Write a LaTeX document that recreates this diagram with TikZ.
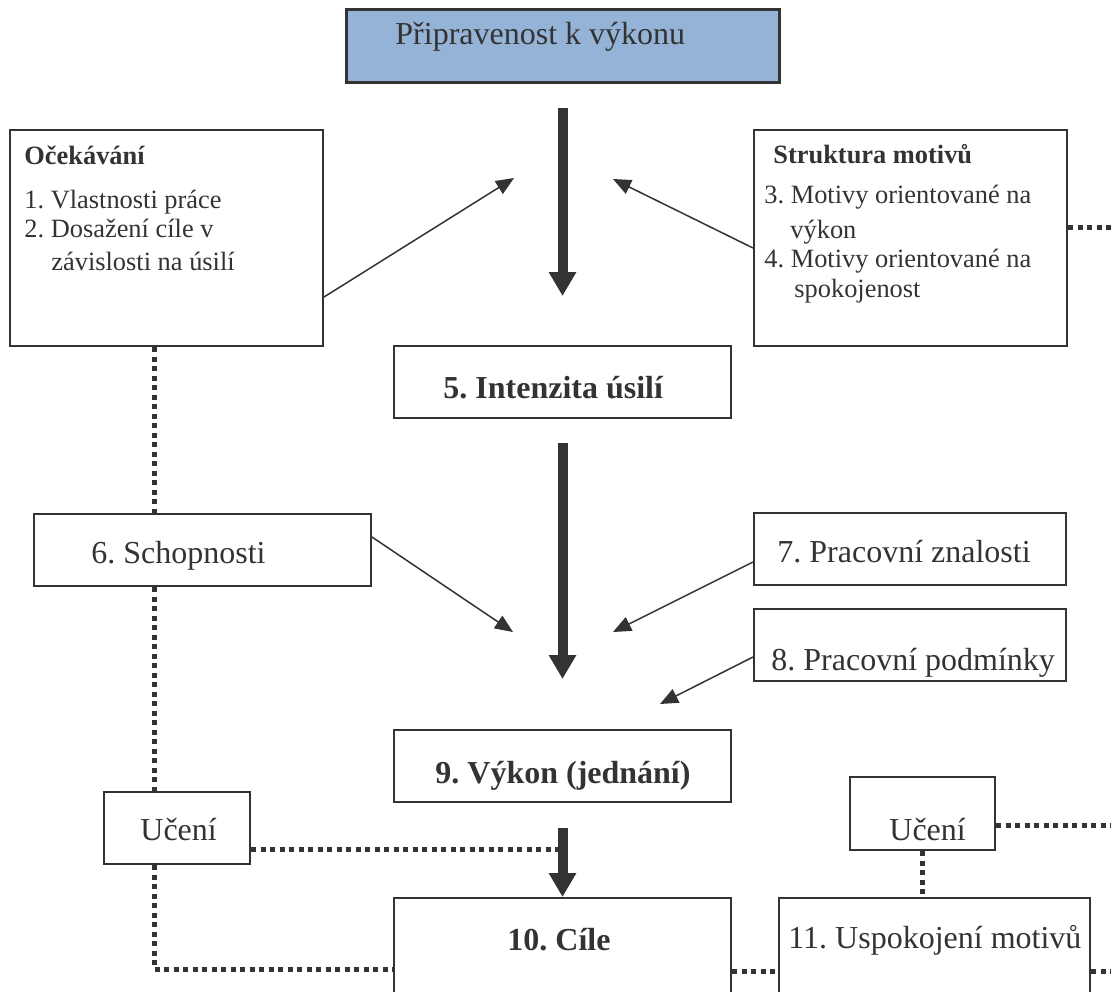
\documentclass[tikz,border=0pt]{standalone}
\usepackage{fontspec}
\setmainfont{Liberation Serif}
\usetikzlibrary{arrows.meta}
\definecolor{ink}{HTML}{333333}
\definecolor{topfill}{HTML}{95B3D7}
\frenchspacing
\begin{document}
\frenchspacing
\begin{tikzpicture}[x=0.5pt,y=-0.5pt,
  box/.style={draw=ink, line width=1pt, inner sep=0pt, rectangle},
  big/.style={font=\fontsize{16}{19}\selectfont, text=ink, inner sep=0pt, anchor=base west},
  bigb/.style={big, font=\fontsize{16}{19}\selectfont\bfseries},
  small/.style={font=\fontsize{13.2}{16}\selectfont, text=ink, inner sep=0pt, anchor=base west},
  smallb/.style={small, font=\fontsize{13.2}{16}\selectfont\bfseries},
  thinarrow/.style={draw=ink, line width=0.75pt, -{Triangle[length=9pt,width=7.5pt]}},
  thickarrow/.style={draw=ink, line width=5pt, -{Triangle[length=12pt,width=13pt]}},
  dots/.style={draw=ink, line width=2.5pt, dash pattern=on 2.5pt off 2.25pt}
]
\useasboundingbox (0,0) rectangle (1111,991);
\clip (0,0) rectangle (1111,991);

% boxes
\node[box, minimum width=216.5pt, minimum height=36.5pt, fill=topfill, line width=1.5pt] (top) at (562.5,45.5) {};
\node[box, minimum width=156.5pt, minimum height=108pt] (L) at (166.5,238) {};
\node[box, minimum width=156.5pt, minimum height=108pt] (R) at (910.5,238) {};
\node[box, minimum width=168.5pt, minimum height=36pt] (b5) at (562.5,382) {};
\node[box, minimum width=168.5pt, minimum height=36pt] (b6) at (202.5,550) {};
\node[box, minimum width=156pt, minimum height=36pt] (b7) at (910,549) {};
\node[box, minimum width=156pt, minimum height=36pt] (b8) at (910,645) {};
\node[box, minimum width=168.5pt, minimum height=36pt] (b9) at (562.5,766) {};
\node[box, minimum width=168.5pt, minimum height=56pt] (b10) at (562.5,954) {};
\node[box, minimum width=155.5pt, minimum height=56pt] (b11) at (934.5,954) {};
\node[box, minimum width=73pt, minimum height=36pt] (ul) at (177,828) {};
\node[box, minimum width=72.5pt, minimum height=36.5pt] (ur) at (922.5,813.5) {};

% texts
\node[big] (ttop) at (395,44) {Připravenost k výkonu};
\node[smallb] (tL0) at (24,164) {Očekávání};
\node[small] (tL1) at (24,208) {1. Vlastnosti práce};
\node[small] (tL2) at (24,237) {2. Dosažení cíle v};
\node[small] (tL3) at (51,270) {závislosti na úsilí};
\node[smallb] (tR0) at (773,163) {Struktura motivů};
\node[small] (tR1) at (764,203) {3. Motivy orientované na};
\node[small] (tR2) at (790,238) {výkon};
\node[small] (tR3) at (764,267) {4. Motivy orientované na};
\node[small] (tR4) at (794,297) {spokojenost};
\node[bigb] (t5) at (443,398) {5. Intenzita úsilí};
\node[big] (t6) at (91,563) {6. Schopnosti};
\node[big] (t7) at (777,562) {7. Pracovní znalosti};
\node[big] (t8) at (771,670) {8. Pracovní podmínky};
\node[bigb] (t9) at (435,783) {9. Výkon (jednání)};
\node[bigb] (t10) at (507,950) {10. Cíle};
\node[big] (t11) at (788,948) {11. Uspokojení motivů};
\node[big] (tul) at (140,840) {Učení};
\node[big] (tur) at (889,840) {Učení};

% free ends
\coordinate (tipL) at (514,178);
\coordinate (tipR) at (613,179);
\coordinate (tip6) at (513,632);
\coordinate (tip7) at (613,632);
\coordinate (tip8) at (660,704);
\coordinate (vx) at (154,0);
\coordinate (d4end) at (563,849);
\coordinate (e6) at (1111,825);
\coordinate (e8) at (1111,971);
\coordinate (e9) at (1111,227);

% thick arrows
\draw[thickarrow] ([yshift=-12pt]top.south) -- ([yshift=24.5pt]b5.north);
\draw[thickarrow] ([yshift=-12pt]b5.south) -- ([yshift=25pt]b9.north);
\draw[thickarrow] ([yshift=-12.5pt]b9.south) -- (b10.north);

% thin arrows
\draw[thinarrow] ([yshift=-29.5pt]L.east) -- (tipL);
\draw[thinarrow] ([yshift=-5pt]R.west) -- (tipR);
\draw[thinarrow] ([yshift=6.5pt]b6.east) -- (tip6);
\draw[thinarrow] ([yshift=-6.5pt]b7.west) -- (tip7);
\draw[thinarrow] ([yshift=-6pt]b8.west) -- (tip8);

% dotted links
\draw[dots] (vx |- L.south) -- (vx |- b6.north);
\draw[dots] (vx |- b6.south) -- (vx |- ul.north);
\draw[dots] (vx |- ul.south) |- ([yshift=-7.5pt]b10.west);
\draw[dots] ([yshift=-10.5pt]ul.east) -- (d4end);
\draw[dots] ([yshift=-8.5pt]b10.east) -- ([yshift=-8.5pt]b11.west);
\draw[dots] ([yshift=-5.75pt]ur.east) -- (e6);
\draw[dots] (ur.south) -- (ur.south |- b11.north);
\draw[dots] ([yshift=-8.5pt]b11.east) -- (e8);
\draw[dots] ([yshift=5.5pt]R.east) -- (e9);
\end{tikzpicture}
\end{document}
